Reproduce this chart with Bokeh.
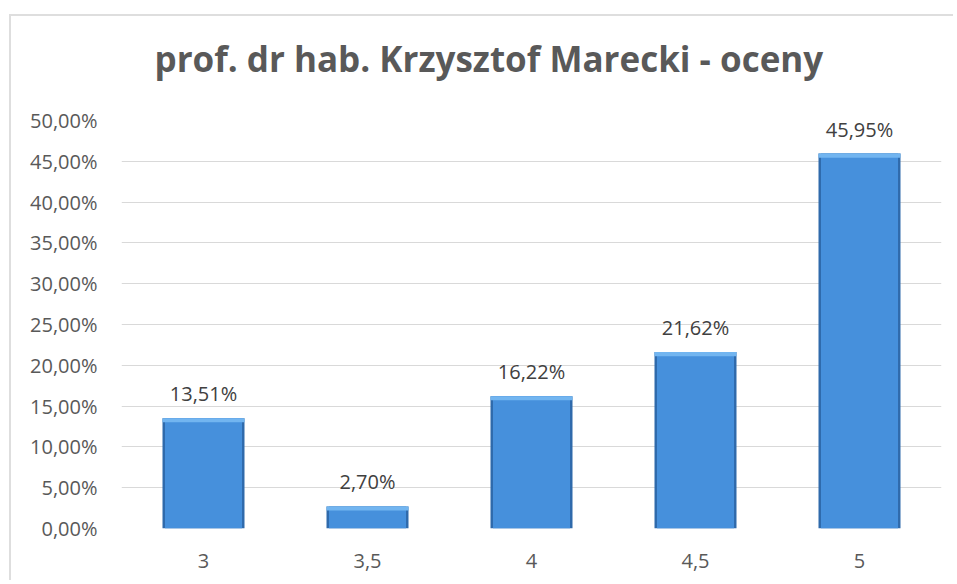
from bokeh.plotting import figure
from bokeh.models import ColumnDataSource, LabelSet, Title, CustomJSTickFormatter, FixedTicker, Range1d
from bokeh.core.properties import value
from bokeh.embed import file_html
from bokeh.resources import INLINE

title_text = "prof. dr hab. Krzysztof Marecki - oceny"
categories = ["3", "3,5", "4", "4,5", "5"]
values = [13.51, 2.70, 16.22, 21.62, 45.95]
y_ticks = [0, 5, 10, 15, 20, 25, 30, 35, 40, 45, 50]

labels = [f"{v:.2f}".replace(".", ",") + "%" for v in values]
bevel = [min(v, 0.5) for v in values]
src = ColumnDataSource(dict(
    cat=categories, val=values, lab=labels,
    bev_bottom=[v - b for v, b in zip(values, bevel)],
    zero=[0] * len(values),
))

FONT = "Open Sans"
p = figure(title=None, x_range=categories, y_range=Range1d(0, 50),
           width=944, height=566, output_backend="svg", toolbar_location=None,
           min_border_left=110, min_border_right=14, min_border_top=104, min_border_bottom=54)
p.styles = {"margin-left": "9px", "margin-top": "14px",
            "border-top": "2px solid #dedede", "border-left": "2px solid #dedede"}
p.outline_line_color = None
p.background_fill_color = "white"
p.border_fill_color = "white"

# spacer between title and plot area (nearest the frame), then the title
p.add_layout(Title(text=" ", text_font_size="1px", standoff=31), "above")
p.add_layout(Title(text=title_text, text_font=FONT, text_font_style="bold",
                   text_font_size="35px", text_color="#595959",
                   align="left", offset=33, standoff=10), "above")

# bars: dark edge, body, light top bevel
p.vbar(x="cat", top="val", bottom="zero", width=0.5, source=src,
       fill_color="#2f6aab", line_color=None)
p.vbar(x="cat", top="val", bottom="zero", width=0.47, source=src,
       fill_color="#4690dc", line_color=None)
p.vbar(x="cat", top="val", bottom="bev_bottom", width=0.5, source=src,
       fill_color="#72b5f0", line_color=None)

p.add_layout(LabelSet(x="cat", y="val", text="lab", source=src,
                      text_align="center", text_baseline="alphabetic", y_offset=17,
                      text_font=value(FONT), text_font_size="20px", text_color="#404040"))

p.yaxis.ticker = FixedTicker(ticks=y_ticks)
p.yaxis.formatter = CustomJSTickFormatter(code="return tick.toFixed(2).replace('.', ',') + '%';")
for ax in (p.xaxis[0], p.yaxis[0]):
    ax.axis_line_color = None
    ax.major_tick_line_color = None
    ax.minor_tick_line_color = None
    ax.major_label_text_font = FONT
    ax.major_label_text_font_size = "20px"
    ax.major_label_text_color = "#595959"
p.yaxis.major_label_standoff = 18
p.xaxis.major_label_standoff = 19

p.xgrid.grid_line_color = None
p.ygrid.grid_line_color = "#d9d9d9"
p.ygrid.grid_line_width = 1

open("out.html", "w").write(file_html(p, INLINE))
